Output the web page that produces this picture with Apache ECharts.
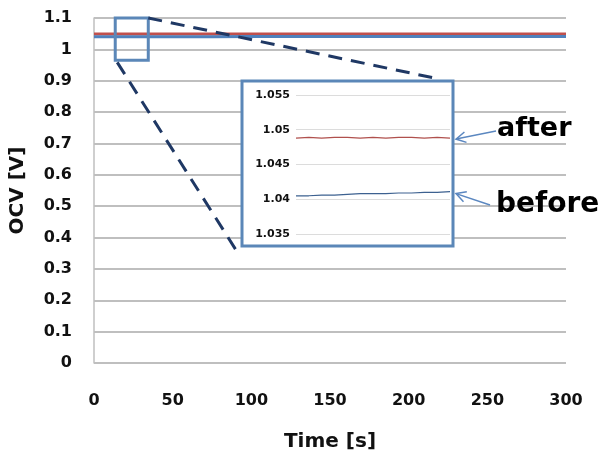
<!DOCTYPE html>
<html><head><meta charset="utf-8">
<script src="https://cdn.jsdelivr.net/npm/echarts@6/dist/echarts.min.js"></script>
<style>html,body{margin:0;padding:0;background:#fff}#c{width:609px;height:460px}</style>
</head><body><div id="c"></div>
<script>
// Data
var timeS = [0, 25, 50, 75, 100, 125, 150, 175, 200, 225, 250, 275, 300];
var ocvBefore = [1.0405, 1.0405, 1.0406, 1.0406, 1.0407, 1.0408, 1.0408, 1.0408, 1.0409, 1.0409, 1.0410, 1.0410, 1.0411];
var ocvAfter  = [1.0488, 1.0489, 1.0488, 1.0489, 1.0489, 1.0488, 1.0489, 1.0488, 1.0489, 1.0489, 1.0488, 1.0489, 1.0488];
var zoomBoxX = [13.5, 34.5];      // zoom window on the main chart (s)
var zoomBoxY = [0.965, 1.1];      // zoom window on the main chart (V)
var insetYTicks = [1.035, 1.055, 0.005];

function pairs(xs, ys){ return xs.map(function(x,i){return [x, ys[i]];}); }

var chart = echarts.init(document.getElementById('c'), null, {renderer:'canvas'});
var FONT = 'DejaVu Sans';
var gridCol = '#bfbfbf';

var option = {
  animation:false,
  grid:[
    {left:92, right:43, top:18, bottom:97, containLabel:false},
    {left:296, top:95, width:154, height:139, containLabel:false}
  ],
  xAxis:[
    {gridIndex:0, type:'value', min:0, max:300, interval:50,
     name:'Time [s]', nameLocation:'middle', nameGap:69,
     nameTextStyle:{fontFamily:FONT, fontWeight:'bold', fontSize:20, color:'#111'},
     axisLine:{show:false}, axisTick:{show:false}, splitLine:{show:false},
     axisLabel:{fontFamily:FONT, fontWeight:'bold', fontSize:16, color:'#111', margin:30}},
    {gridIndex:1, type:'value', min:0, max:300, show:false, z:5}
  ],
  yAxis:[
    {gridIndex:0, type:'value', min:0, max:1.1, interval:0.1,
     name:'OCV [V]', nameLocation:'middle', nameGap:66, nameRotate:90,
     nameTextStyle:{fontFamily:FONT, fontWeight:'bold', fontSize:20, color:'#111'},
     axisLine:{show:true, lineStyle:{color:gridCol, width:1.5}}, axisTick:{show:false},
     splitLine:{show:true, lineStyle:{color:gridCol, width:2}},
     axisLabel:{fontFamily:FONT, fontWeight:'bold', fontSize:16, color:'#111', margin:22,
       formatter:function(v){return String(Math.round(v*10)/10);}}},
    {gridIndex:1, type:'value', min:insetYTicks[0], max:insetYTicks[1], interval:insetYTicks[2], z:5,
     axisLine:{show:false}, axisTick:{show:false},
     splitLine:{show:true, lineStyle:{color:'#dcdcdc', width:1}},
     axisLabel:{fontFamily:FONT, fontWeight:'bold', fontSize:11, color:'#111', margin:6,
       formatter:function(v){return String(Math.round(v*1000)/1000);}}}
  ],
  series:[
    {type:'line', xAxisIndex:0, yAxisIndex:0, data:pairs(timeS, ocvAfter), showSymbol:false, z:2,
     lineStyle:{color:'#c0504d', width:3}},
    {type:'line', xAxisIndex:0, yAxisIndex:0, data:pairs(timeS, ocvBefore), showSymbol:false, z:2,
     lineStyle:{color:'#4f81bd', width:3}},
    {type:'line', xAxisIndex:1, yAxisIndex:1, data:pairs(timeS, ocvAfter), showSymbol:false, z:6,
     lineStyle:{color:'#b0504d', width:1.2}},
    {type:'line', xAxisIndex:1, yAxisIndex:1, data:pairs(timeS, ocvBefore), showSymbol:false, z:6,
     lineStyle:{color:'#3d6190', width:1.2}}
  ]
};
chart.setOption(option);

// annotation geometry derived from the axes
var p1 = chart.convertToPixel({xAxisIndex:0, yAxisIndex:0}, [zoomBoxX[0], zoomBoxY[1]]);
var p2 = chart.convertToPixel({xAxisIndex:0, yAxisIndex:0}, [zoomBoxX[1], zoomBoxY[0]]);
var ig = chart.getModel().getComponent('grid', 1).coordinateSystem.getRect();
var inset = {x: ig.x - 54, y: ig.y - 14, w: ig.width + 57, h: ig.height + 26};
var aTip = chart.convertToPixel({xAxisIndex:1, yAxisIndex:1}, [300, ocvAfter[12]]);
var bTip = chart.convertToPixel({xAxisIndex:1, yAxisIndex:1}, [300, ocvBefore[12]]);
var boxCol = '#5b87b8', dashCol = '#1f3864', arrowCol = '#5b87c0';

function arrow(tipX, tipY, tailX, tailY){
  var ang = Math.atan2(tailY - tipY, tailX - tipX), L = 11, sp = 0.5;
  return [
    {type:'line', z:20, shape:{x1:tailX, y1:tailY, x2:tipX, y2:tipY}, style:{stroke:arrowCol, lineWidth:1.5}},
    {type:'polyline', z:20, shape:{points:[
      [tipX + L*Math.cos(ang - sp), tipY + L*Math.sin(ang - sp)],
      [tipX, tipY],
      [tipX + L*Math.cos(ang + sp), tipY + L*Math.sin(ang + sp)]]},
     style:{stroke:arrowCol, lineWidth:1.5, fill:null}}
  ];
}
var ax = inset.x + inset.w + 3;
var graphics = [
  {type:'rect', z:3, shape:{x:inset.x, y:inset.y, width:inset.w, height:inset.h},
   style:{fill:'#fff', stroke:boxCol, lineWidth:3}},
  {type:'rect', z:10, shape:{x:p1[0], y:p1[1], width:p2[0]-p1[0], height:p2[1]-p1[1]},
   style:{fill:null, stroke:boxCol, lineWidth:3}},
  {type:'line', z:10, shape:{x1:p2[0], y1:p1[1], x2:inset.x + inset.w - 14, y2:inset.y - 2},
   style:{stroke:dashCol, lineWidth:3, lineDash:[14,9]}},
  {type:'line', z:10, shape:{x1:p1[0]+2, y1:p2[1]+2, x2:inset.x - 6, y2:inset.y + inset.h + 4},
   style:{stroke:dashCol, lineWidth:3, lineDash:[14,9]}},
  {type:'text', z:20, x:497, y:129, style:{text:'after', fontFamily:'DejaVu Sans', fontWeight:'bold', fontSize:27, fill:'#000', textVerticalAlign:'middle'}},
  {type:'text', z:20, x:496, y:205, style:{text:'before', fontFamily:'DejaVu Sans', fontWeight:'bold', fontSize:28, fill:'#000', textVerticalAlign:'middle'}}
].concat(arrow(ax, aTip[1]+1, 496, 131)).concat(arrow(ax, bTip[1]+2, 490, 205));
chart.setOption({graphic:graphics});
</script>
</body></html>
